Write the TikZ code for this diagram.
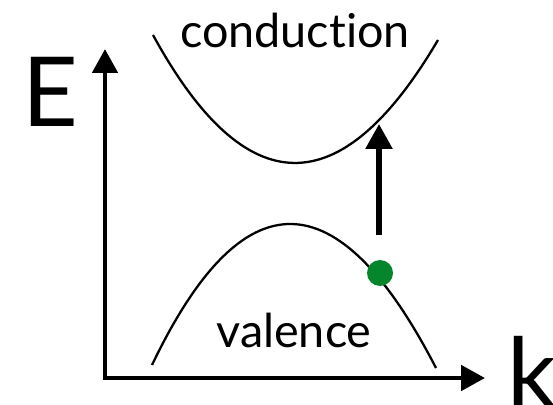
\documentclass[tikz,border=0pt]{standalone}
\usepackage{fontspec}
\setmainfont{Lato}[Ligatures=NoCommon]
\usetikzlibrary{arrows.meta, positioning}
\definecolor{bandgreen}{HTML}{06862C}

\begin{document}
\begin{tikzpicture}[
          axis/.style={line width=2.8pt, {Triangle[length=4.8mm, width=5mm]}-{Triangle[length=4.8mm, width=5mm]}},
          band/.style={line width=1.3pt},
          lbl/.style={inner sep=0pt, font=\fontsize{26.6}{30}\selectfont},
          big/.style={inner sep=0pt, font=\fontsize{55}{60}\selectfont}]
          \useasboundingbox (-2.1,-0.52) rectangle (8.96,7.56);
          % axes
          \coordinate (o) at (0,0);
          \coordinate (etop) at (0,6.58);
          \coordinate (kend) at (7.6,0);
          \draw[axis] (etop) -- (o) -- (kend);
          \node[big] (E) at (-1.1,5.72) {E};
          \node[big, anchor=base west] (k) at (8.04,-0.58) {k};
          % bands
          \coordinate (c1) at (0.96,6.86); \coordinate (c2) at (6.66,6.76);
          \draw[band] (c1) .. controls (2.81,3.48) and (4.71,3.45) .. (c2);
          \coordinate (v1) at (0.94,0.26); \coordinate (v2) at (6.62,0.2);
          \draw[band] (v1) .. controls (2.75,4.04) and (4.65,4.02) .. (v2);
          \node[lbl, anchor=base] (cond) at (3.8,6.6) {conduction};
          \node[lbl, anchor=base] (val) at (3.78,0.62) {valence};
          % transition
          \node[circle, fill=bandgreen, inner sep=0pt, minimum size=5.2mm] (e) at (5.5,2.1) {};
          \coordinate (from) at (5.48,2.86); \coordinate (to) at (5.48,5.08);
          \draw[line width=3.2pt, -{Triangle[length=5mm, width=5.2mm]}] (from) -- (to);
        \end{tikzpicture}
\end{document}
